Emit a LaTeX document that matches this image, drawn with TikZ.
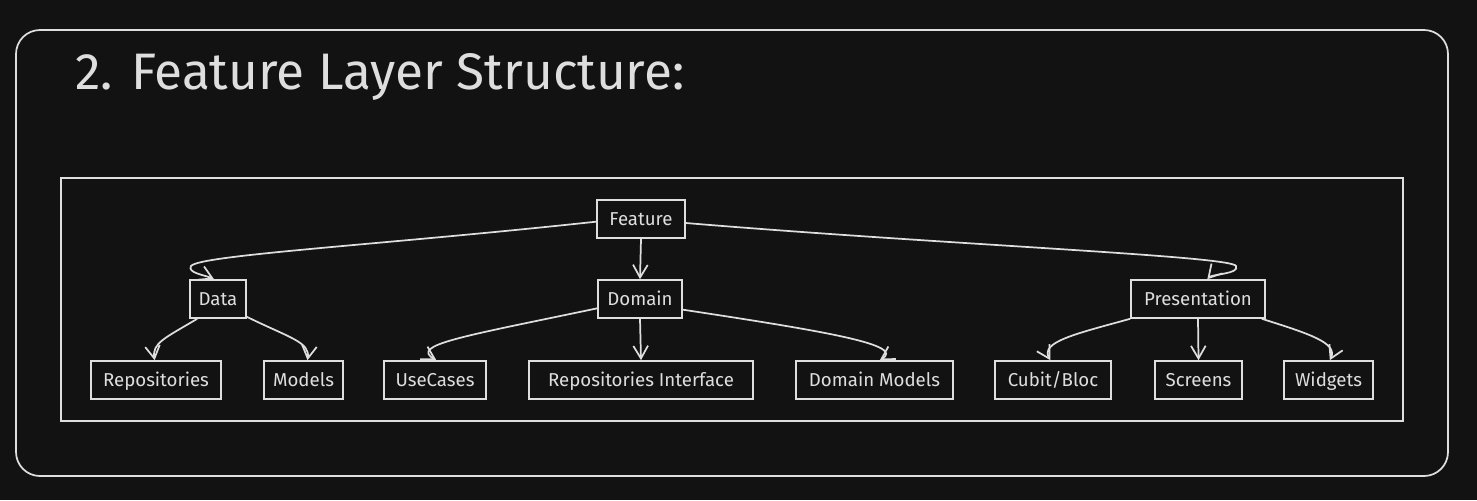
\documentclass[tikz,border=0pt]{standalone}
\usepackage{fontspec}
\setmainfont{Fira Sans}
\usetikzlibrary{arrows.meta}
\definecolor{bg}{HTML}{121212}
\definecolor{fg}{HTML}{DEDEDE}
\newfontfamily\titlefont{Fira Sans}
\tikzset{
  box/.style={draw=fg, line width=1.2pt, inner sep=0pt, minimum height=28.5pt, text=fg, text height=9.7pt, text depth=0pt, font=\fontsize{14}{16}\selectfont},
  conn/.style={draw=fg, line width=1.3pt, -{Straight Barb[length=9.5pt,width=11pt,line width=1.3pt]}},
  frame/.style={draw=fg, line width=1.3pt}
}
\begin{document}
\begin{tikzpicture}[x=0.75pt,y=-0.75pt]
\fill[bg] (0,0) rectangle (1477,500);
\useasboundingbox (0,0) rectangle (1477,500);
\draw[frame, rounded corners=18pt] (16,30) rectangle (1448,476);
\node[anchor=base west, text=fg, inner sep=0pt, font=\titlefont\fontsize{38.5}{44}\selectfont] (title) at (75,89) {2. Feature Layer Structure:};
\draw[frame] (61,178) rectangle (1403,421);

\node[box, minimum width=66pt] (feature) at (641,219) {Feature};
\node[box, minimum width=42pt] (data) at (218,299) {Data};
\node[box, minimum width=63pt] (domain) at (640,299) {Domain};
\node[box, minimum width=100.5pt] (pres) at (1198,299) {Presentation};
\node[box, minimum width=97.5pt] (repos) at (156,380) {Repositories};
\node[box, minimum width=59.25pt] (models) at (303.5,380) {Models};
\node[box, minimum width=76.5pt] (usecases) at (435,380) {UseCases};
\node[box, minimum width=168pt] (repoint) at (641,380) {Repositories Interface};
\node[box, minimum width=117.75pt] (dmodels) at (874.5,380) {Domain Models};
\node[box, minimum width=87pt] (cubit) at (1053,380) {Cubit/Bloc};
\node[box, minimum width=65.25pt] (screens) at (1198.5,380) {Screens};
\node[box, minimum width=66.75pt] (widgets) at (1328.5,380) {Widgets};

% Feature level
\draw[conn] ([yshift=-2pt]feature.west) .. controls (380,245) and (200,255) .. (191,266) .. controls (187,273) and (205,275) .. ([xshift=-3pt]data.north);
\draw[conn] (feature.south) -- (domain.north);
\draw[conn] ([yshift=-3pt]feature.east) .. controls (950,245) and (1232,256) .. (1236,266) .. controls (1240,274) and (1212,274) .. ([xshift=7pt]pres.north);

% Data level
\draw[conn] ([xshift=6pt]data.south west) .. controls (165,338) and (152,343) .. ([xshift=-1pt]repos.north);
\draw[conn] ([yshift=1.5pt]data.south east) .. controls (290,338) and (310,342) .. ([xshift=3pt]models.north);

% Domain level
\draw[conn] ([yshift=-7pt]domain.west) .. controls (460,337) and (410,345) .. ([xshift=1pt]usecases.north);
\draw[conn] (domain.south) -- (repoint.north);
\draw[conn] ([yshift=-8pt]domain.east) .. controls (830,332) and (905,345) .. ([xshift=4pt]dmodels.north);

% Presentation level
\draw[conn] (pres.south west) .. controls (1075,334) and (1040,342) .. ([xshift=-2pt]cubit.north);
\draw[conn] (pres.south) -- (screens.north);
\draw[conn] ([xshift=-3pt]pres.south east) .. controls (1310,334) and (1338,343) .. ([xshift=1pt]widgets.north);
\end{tikzpicture}
\end{document}
